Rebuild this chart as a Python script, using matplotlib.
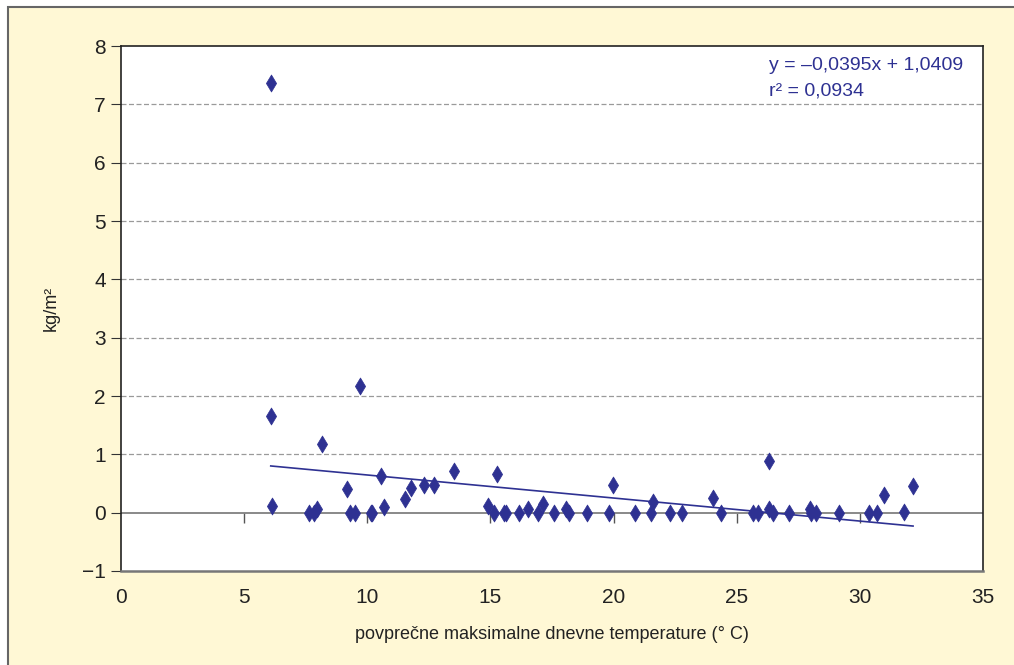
import numpy as np
import matplotlib
matplotlib.use("Agg")
import matplotlib.pyplot as plt
from matplotlib.patches import Rectangle

plt.rcParams['font.family'] = ['Liberation Sans', 'DejaVu Sans']

# average max daily temperature (°C) and yield (kg/m²)
temp = [6.08, 6.10, 6.12, 7.64, 7.84, 7.95, 8.16, 9.19, 9.29, 9.49, 9.69,
        10.14, 10.21, 10.57, 10.69, 11.52, 11.76, 12.30, 12.70,
        13.53, 14.92, 15.16, 15.28, 15.57, 15.64, 16.15, 16.52, 16.93,
        17.15, 17.57, 18.05, 18.20, 18.93, 19.83, 19.96, 20.88, 21.52,
        21.60, 22.31, 22.79, 24.03, 24.37, 25.68, 25.85, 26.33, 26.33,
        26.47, 27.12, 27.97, 28.01, 28.22, 29.16, 30.39, 30.70, 31.00,
        31.79, 32.16]
kg = [7.37, 1.65, 0.11, 0.00, 0.00, 0.06, 1.18, 0.40, 0.00, 0.00, 2.17,
      0.00, 0.00, 0.63, 0.09, 0.24, 0.42, 0.47, 0.47,
      0.72, 0.11, 0.00, 0.66, 0.00, 0.00, 0.00, 0.07, 0.00,
      0.15, 0.00, 0.07, 0.00, 0.00, 0.00, 0.47, 0.00, 0.00,
      0.18, 0.00, 0.00, 0.25, 0.00, 0.00, 0.00, 0.89, 0.07,
      0.00, 0.00, 0.07, 0.00, 0.00, 0.00, 0.00, 0.00, 0.30,
      0.01, 0.46]

slope, intercept = -0.0395, 1.0409
r2 = 0.0934

navy = '#2e3192'
bg = '#fff8d5'

fig = plt.figure(figsize=(10.14, 6.65), dpi=100, facecolor='white')
fig.patches.append(Rectangle((8 / 1014, -0.1), 1.2, 1 - 7 / 665 + 0.1,
                             transform=fig.transFigure, facecolor=bg,
                             edgecolor='#666666', lw=1.5, zorder=-10))

ax = fig.add_axes([121 / 1014, 1 - 571 / 665, 862 / 1014, 525 / 665])
ax.set_facecolor('white')

ax.set_xlim(0, 35)
ax.set_ylim(-1, 8)
ax.set_xticks(range(0, 36, 5))
ax.set_yticks(range(-1, 9))

for y in range(1, 8):
    ax.axhline(y, color='#9a9a9a', lw=0.9, ls=(0, (4, 2)), zorder=1)
ax.axhline(0, color='#808080', lw=1.3, zorder=1)

# tick marks sitting on the zero line
sec = ax.secondary_xaxis(1 / 9)
sec.set_xticks(range(5, 35, 5))
sec.tick_params(axis='x', direction='out', length=7, color='#555555',
                labelbottom=False, labeltop=False, width=1)
sec.spines['bottom'].set_visible(False)
sec.spines['top'].set_visible(False)

ax.scatter(temp, kg, marker='d', s=75, color=navy, edgecolors=navy,
           linewidths=0.5, zorder=3)

xs = np.array([min(temp), max(temp)])
ax.plot(xs, slope * xs + intercept, color=navy, lw=1.2, zorder=2)

ax.text(0.752, 0.962, 'y = –0,0395x + 1,0409', transform=ax.transAxes,
        color=navy, fontsize=14, va='center', ha='left')
ax.text(0.752, 0.915, 'r² = 0,0934', transform=ax.transAxes,
        color=navy, fontsize=14, va='center', ha='left')

for side in ['left', 'top', 'right']:
    ax.spines[side].set_color('#222222')
    ax.spines[side].set_linewidth(1.2)
ax.spines['bottom'].set_color('#777777')
ax.spines['bottom'].set_linewidth(1.8)

ax.tick_params(axis='y', direction='out', length=7, color='#333333',
               labelsize=15, labelcolor='#222222', pad=4)
ax.tick_params(axis='x', length=0, labelsize=15, labelcolor='#222222', pad=12)

ax.set_xlabel('povprečne maksimalne dnevne temperature (° C)', fontsize=13,
              color='#222222', labelpad=14)
ax.set_ylabel('kg/m²', fontsize=13, color='#222222', labelpad=16)

fig.savefig('out.png', dpi=100, facecolor=fig.get_facecolor())
